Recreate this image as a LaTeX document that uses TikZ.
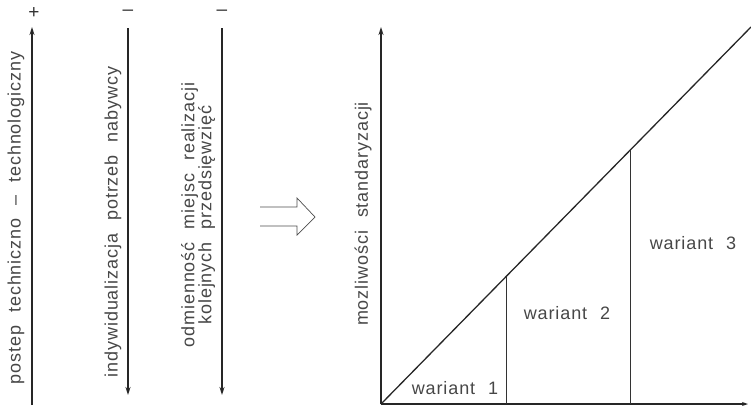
\documentclass[tikz,border=0pt]{standalone}
\usepackage{fontspec}
\newfontfamily\labfont[WordSpace=2.2,LetterSpace=5]{Liberation Sans}
\newfontfamily\signfont{Liberation Sans}
\usetikzlibrary{arrows.meta}
\begin{document}
\begin{tikzpicture}[x=1pt,y=-1pt,
  lab/.style={font=\labfont\fontsize{18}{17}\selectfont, text=black!72, inner sep=0pt},
  vlab/.style={lab, rotate=90},
  sign/.style={font=\signfont\fontsize{19}{19}\selectfont, text=black!80, inner sep=0pt},
  axis/.style={line width=1.4pt, black!85},
  tip/.style={-{Stealth[length=8pt,width=5pt]}},
  thinl/.style={line width=0.9pt, black!80}]
\useasboundingbox (0,0) rectangle (751,405);
% left arrows
\coordinate (a1s) at (32,405);
\coordinate (a1e) at (32,27);
\coordinate (a2s) at (128,28);
\coordinate (a2e) at (128,395);
\coordinate (a3s) at (222,28);
\coordinate (a3e) at (222,395);
\draw[axis,tip] (a1s) -- (a1e);
\draw[axis,tip] (a2s) -- (a2e);
\draw[axis,tip] (a3s) -- (a3e);
\node[sign] (p1) at (34,13) {+};
\node[sign] (m2) at (128,13) {–};
\node[sign] (m3) at (222,13) {–};
\node[vlab] (t1) at (16,218) {postep techniczno – technologiczny};
\node[vlab] (t2) at (113,222) {indywidualizacja potrzeb nabywcy};
\node[vlab, align=center] (t3) at (198,215) {odmienność miejsc realizacji\\kolejnych przedsięwzięć};
% implication arrow
\draw[line width=0.7pt, black!70, line join=miter]
  (260,207) -- (297,207) -- (297,198) -- (315,217) -- (297,235) -- (297,226) -- (260,226);
% chart
\coordinate (O) at (381,404);
\coordinate (Yt) at (381,27);
\coordinate (Xe) at (748,404);
\coordinate (D) at (751,27);
\coordinate (b1) at (506,404);
\coordinate (c1) at (506,276.6);
\coordinate (b2) at (630,404);
\coordinate (c2) at (630,150.3);
\draw[axis,tip] (O) -- (Yt);
\draw[axis,-{Stealth[length=6pt,width=4pt]}] (O) -- (Xe);
\draw[line width=1.3pt, black!85] (O) -- (D);
\draw[thinl] (b1) -- (c1);
\draw[thinl] (b2) -- (c2);
\node[vlab] (t4) at (363,214) {mozliwości standaryzacji};
\node[lab] (w1) at (455,388) {wariant 1};
\node[lab] (w2) at (567,313) {wariant 2};
\node[lab] (w3) at (693,243) {wariant 3};
\end{tikzpicture}
\end{document}
